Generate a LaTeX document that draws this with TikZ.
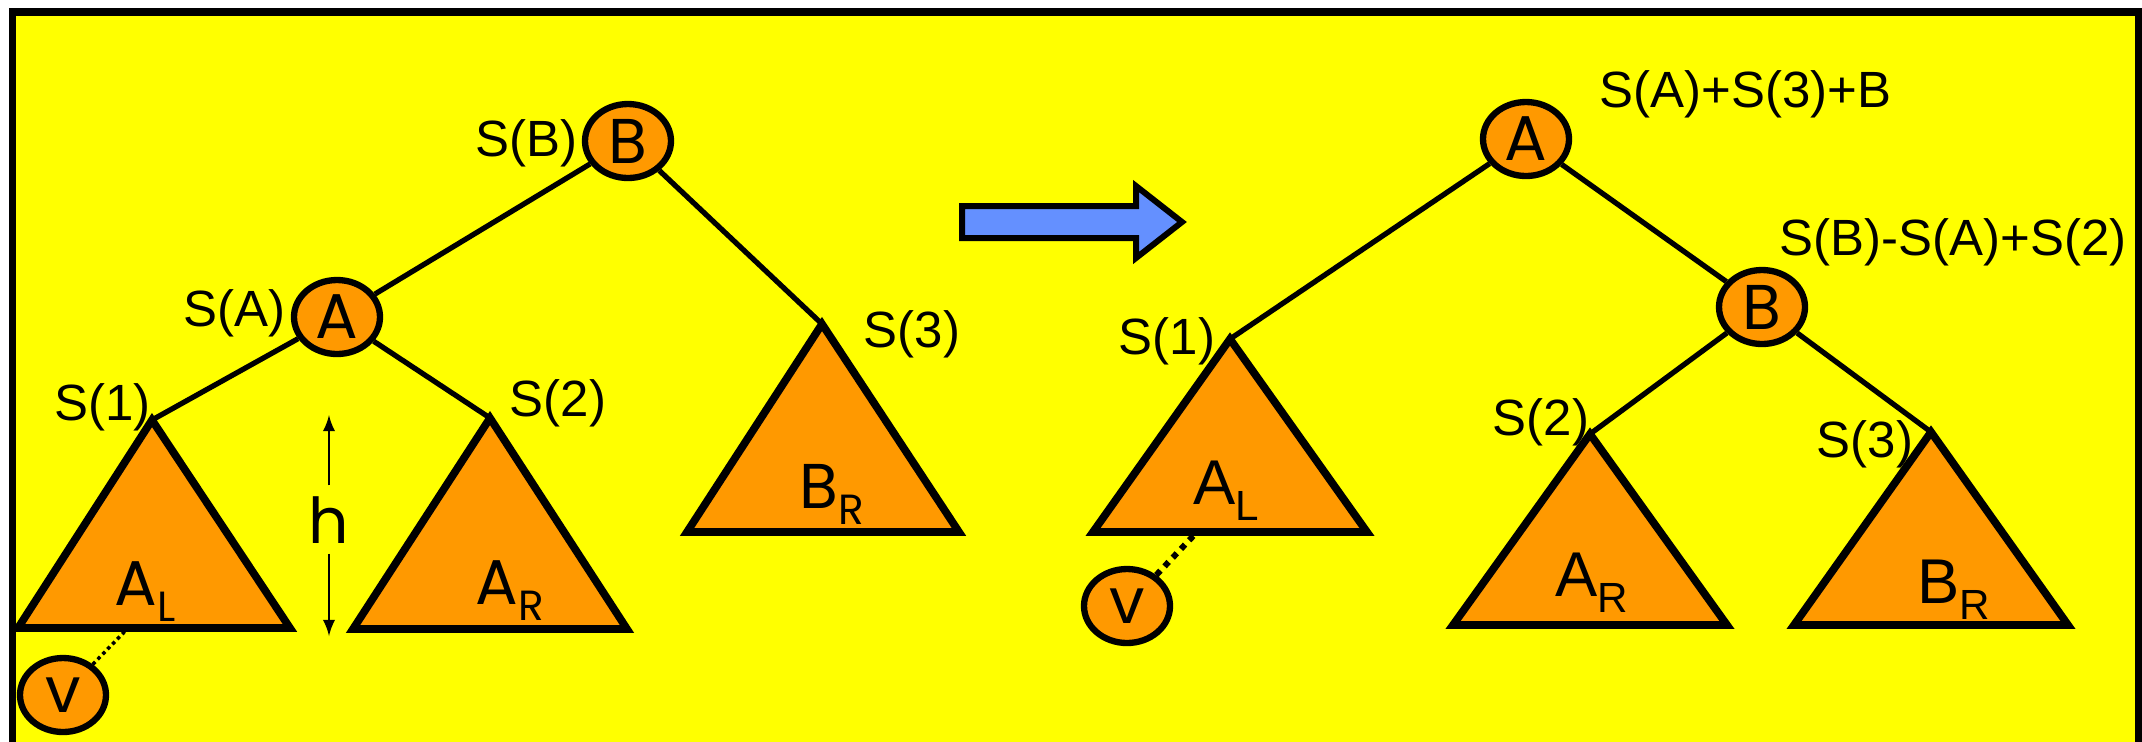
\documentclass[tikz,border=0pt]{standalone}
\usepackage{fontspec}
\setmainfont{Liberation Sans}
\newfontfamily\comic{Poppins}
\usepackage{tikz}
\usetikzlibrary{shapes,arrows,positioning}

\definecolor{bgyellow}{RGB}{255,255,0}
\definecolor{treeorange}{RGB}{255,153,0}
\definecolor{turnblue}{RGB}{100,144,255}
\newcommand{\lowidx}[1]{\raisebox{-0.16cm}{\fontsize{12}{12}\selectfont #1}}

\begin{document}
\begin{tikzpicture}[
    frame/.style   = {draw, line width=2pt, fill=bgyellow},
    knot/.style    = {ellipse, draw, line width=1.8pt, fill=treeorange,
                      minimum width=0.86cm, minimum height=0.74cm,
                      inner sep=0pt, font=\comic\fontsize{18}{18}\selectfont},
    subtree/.style = {draw, line width=2.2pt, fill=treeorange},
    edge/.style    = {line width=1.5pt},
    lbl/.style     = {anchor=base west, inner sep=0pt,
                      font=\fontsize{14.5}{16}\selectfont},
    tname/.style   = {anchor=base west, inner sep=0pt,
                      font=\fontsize{18}{18}\selectfont},
    cname/.style   = {tname, font=\comic\fontsize{18}{18}\selectfont},
    leaf/.style    = {line width=1pt, dash pattern=on 1pt off 1pt},
    fatleaf/.style = {line width=1.7pt, dash pattern=on 1.7pt off 1.7pt},
    harrow/.style  = {-latex, line width=0.6pt},
    turn/.style    = {draw, line width=1.7pt, fill=turnblue}
]
    \useasboundingbox (0,0) rectangle (21.42,-7.41);
    \clip (0,0) rectangle (21.42,-7.41);

    %-- yellow slide (bottom edge falls outside the page) ----------------------
    \draw[frame] (0.125,-0.12) rectangle (21.38,-7.80);

    %-- before the rotation: B is the root -----------------------------------
    \node[knot] (B) at (6.28,-1.41) {B};
    \node[knot] (A) at (3.37,-3.17) {A};
    \node[knot] (v) at (0.63,-6.95) {v};
    \coordinate (al) at (1.52,-4.20);
    \coordinate (ar) at (4.90,-4.18);
    \coordinate (br) at (8.22,-3.24);
    \coordinate (alfoot) at (1.32,-6.24);

    \draw[edge] (B) -- (A);
    \draw[edge] (B) -- (br);
    \draw[edge] (A) -- (al);
    \draw[edge] (A) -- (ar);
    \draw[leaf] (v) -- (alfoot);

    \draw[subtree] (al) -- ++(-1.34,-2.08) -- ++(2.72,0) -- cycle;
    \draw[subtree] (ar) -- ++(-1.37,-2.11) -- ++(2.74,0) -- cycle;
    \draw[subtree] (br) -- ++(-1.35,-2.08) -- ++(2.72,0) -- cycle;

    \node[cname] (alname) at (1.14,-6.05) {A\lowidx{L}};
    \node[cname] (arname) at (4.75,-6.04) {A\lowidx{R}};
    \node[cname] (brname) at (7.99,-5.08) {B\lowidx{R}};

    \node[lbl] (sb) at (4.75,-1.56) {S(B)};
    \node[lbl] (sa) at (1.83,-3.26) {S(A)};
    \node[lbl] (s1) at (0.54,-4.20) {S(1)};
    \node[lbl] (s2) at (5.09,-4.16) {S(2)};
    \node[lbl] (s3) at (8.63,-3.47) {S(3)};

    % height of the subtrees
    \node[font=\comic\fontsize{18}{18}\selectfont, anchor=base,
          inner sep=0.1cm] (h) at (3.29,-5.43) {h};
    \coordinate (htop) at (3.29,-4.15);
    \coordinate (hbot) at (3.29,-6.36);
    \draw[harrow] (h) -- (htop);
    \draw[harrow] (h) -- (hbot);

    %-- rotation arrow ---------------------------------------------------------
    \draw[turn] (9.62,-2.06) -- (11.36,-2.06) -- (11.36,-1.86) -- (11.82,-2.22)
                -- (11.36,-2.58) -- (11.36,-2.38) -- (9.62,-2.38) -- cycle;

    %-- after the rotation: A is the root ------------------------------------
    \node[knot] (A2) at (15.26,-1.39) {A};
    \node[knot] (B2) at (17.62,-3.07) {B};
    \node[knot] (v2) at (11.27,-6.06) {v};
    \coordinate (al2) at (12.30,-3.39);
    \coordinate (ar2) at (15.90,-4.34);
    \coordinate (br2) at (19.31,-4.32);
    \coordinate (al2foot) at (11.96,-5.33);

    \draw[edge] (A2) -- (al2);
    \draw[edge] (A2) -- (B2);
    \draw[edge] (B2) -- (ar2);
    \draw[edge] (B2) -- (br2);
    \draw[fatleaf] (v2) -- (al2foot);

    \draw[subtree] (al2) -- ++(-1.37,-1.93) -- ++(2.74,0) -- cycle;
    \draw[subtree] (ar2) -- ++(-1.37,-1.91) -- ++(2.74,0) -- cycle;
    \draw[subtree] (br2) -- ++(-1.37,-1.93) -- ++(2.74,0) -- cycle;

    \node[tname] (al2name) at (11.93,-5.04) {A\lowidx{L}};
    \node[tname] (ar2name) at (15.55,-5.96) {A\lowidx{R}};
    \node[tname] (br2name) at (19.17,-6.03) {B\lowidx{R}};

    \node[lbl] (sa2) at (15.99,-1.07) {S(A)+S(3)+B};
    \node[lbl] (sb2) at (17.79,-2.55) {S(B)-S(A)+S(2)};
    \node[lbl] (s12) at (11.18,-3.54) {S(1)};
    \node[lbl] (s22) at (14.92,-4.35) {S(2)};
    \node[lbl] (s32) at (18.16,-4.57) {S(3)};

\end{tikzpicture}
\end{document}
